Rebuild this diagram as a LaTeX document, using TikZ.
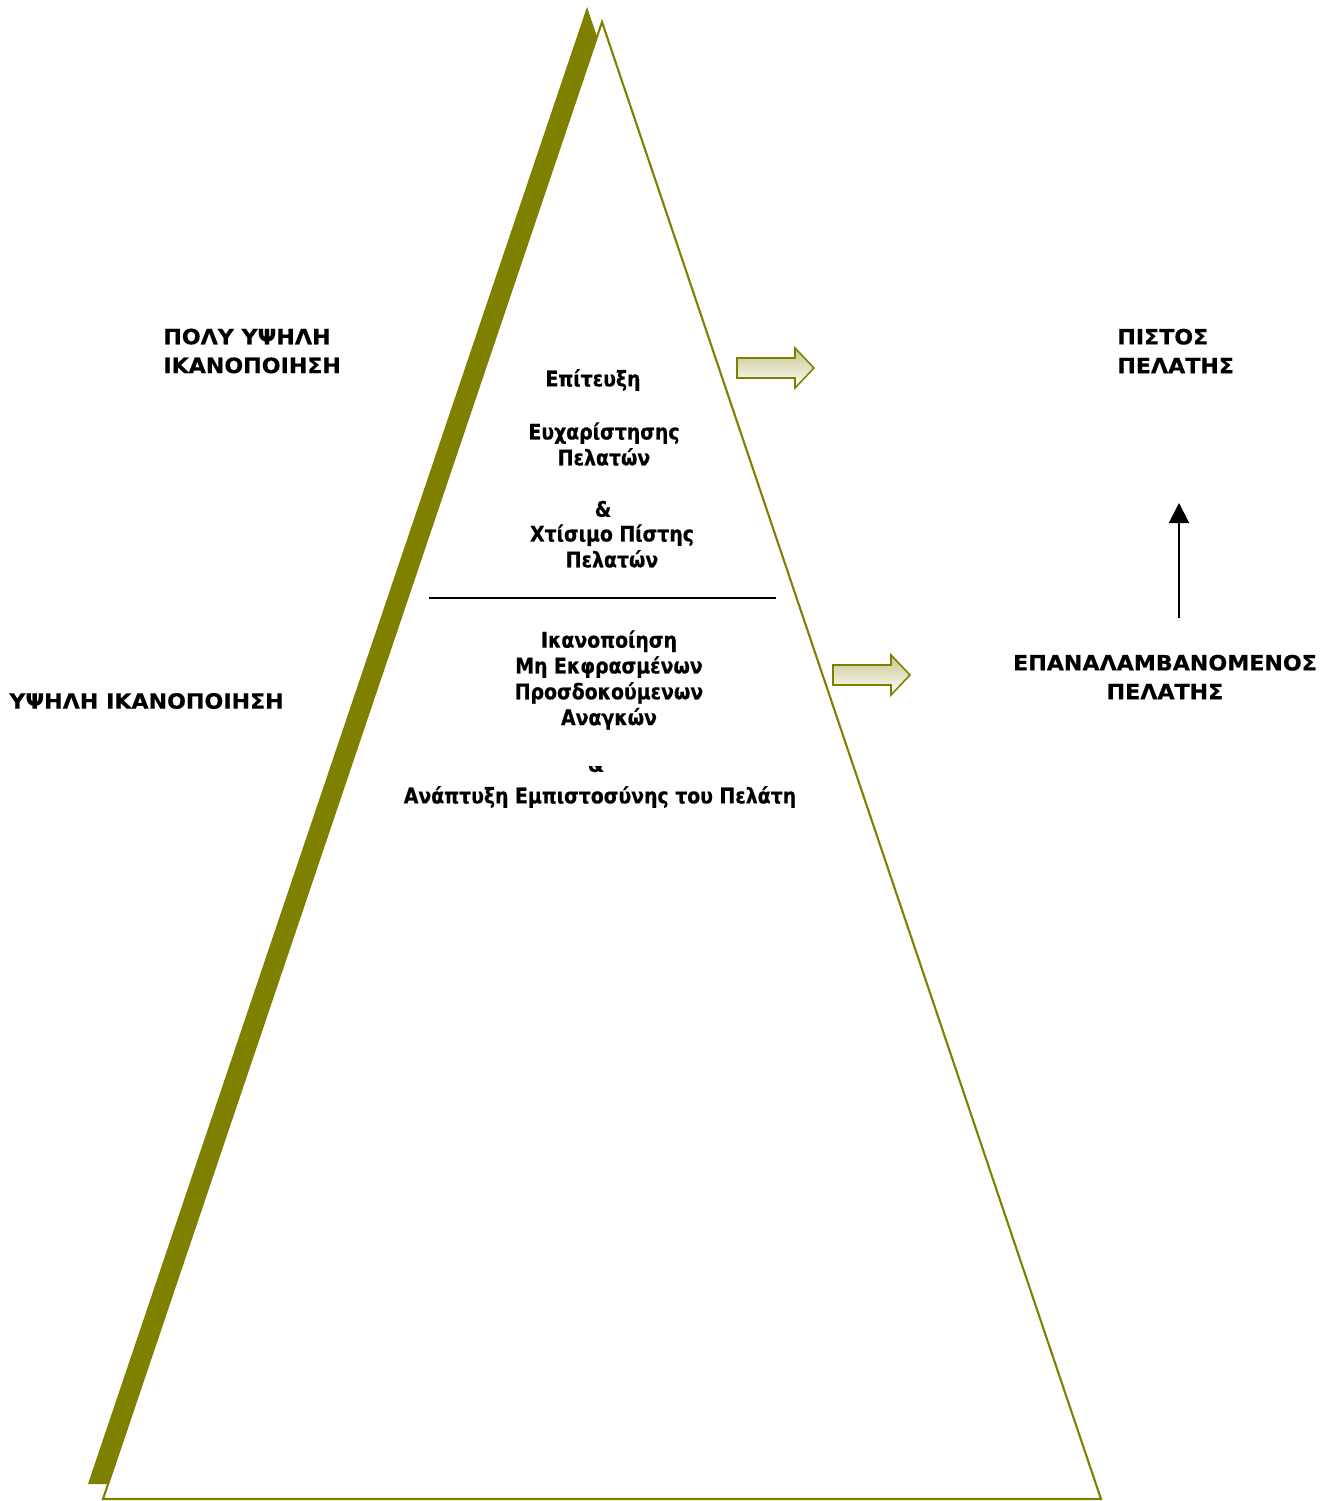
\documentclass[tikz,border=0pt]{standalone}
\usepackage{fontspec}
\setmainfont{DejaVu Sans}
\newfontfamily\capfont[FakeStretch=1.05,FakeBold=0.5]{DejaVu Sans}
\newfontfamily\txtfont[FakeStretch=0.88,FakeBold=0.6]{DejaVu Sans}
\usetikzlibrary{arrows.meta}
\definecolor{olivebar}{HTML}{808000}
\tikzset{
  head/.style={font=\capfont\bfseries\fontsize{12}{16.4}\selectfont,inner sep=0pt},
  lbl/.style={font=\txtfont\bfseries\fontsize{12.2}{14.7}\selectfont,align=center,inner sep=0pt},
  blockarrow/.style={draw=olivebar,line width=0.9pt,top color=olivebar!45!white,bottom color=white}
}
\begin{document}
\begin{tikzpicture}[x=0.02cm,y=-0.02cm]
        \useasboundingbox(0,0)rectangle(1329,1501);
        \fill[olivebar](587,7)--(88,1484)--(1086,1484)--cycle;
        \draw[olivebar,fill=white,line width=1.2pt](602,22)--(103,1499)--(1101,1499)--cycle;
        \draw[line width=1pt](429,598)--(776,598);
        \draw[blockarrow](737,358)--(795,358)--(795,348)--(814,368)--(795,388)--(795,378)--(737,378)--cycle;
        \draw[blockarrow](833,665)--(891,665)--(891,655)--(910,675)--(891,695)--(891,685)--(833,685)--cycle;
        \node[head,align=left,anchor=west](1)at(163,351){ΠΟΛΥ ΥΨΗΛΗ\\ΙΚΑΝΟΠΟΙΗΣΗ};
        \node[head,anchor=west](2)at(9,701){ΥΨΗΛΗ ΙΚΑΝΟΠΟΙΗΣΗ};
        \node[head,align=left,anchor=west](3)at(1117,351){ΠΙΣΤΟΣ\\ΠΕΛΑΤΗΣ};
        \node[head,align=center](4)at(1165,677){ΕΠΑΝΑΛΑΜΒΑΝΟΜΕΝΟΣ\\ΠΕΛΑΤΗΣ};
        \node[lbl](5)at(593,380){Επίτευξη};
        \node[lbl](6)at(604,444){Ευχαρίστησης\\Πελατών};
        \node[lbl](7)at(603,509){\&};
        \node[lbl](8)at(612,546){Χτίσιμο Πίστης\\Πελατών};
        \node[lbl](9)at(609,680){Ικανοποίηση\\Μη Εκφρασμένων\\Προσδοκούμενων\\Αναγκών};
        \node[lbl](10)at(600,797){Ανάπτυξη Εμπιστοσύνης του Πελάτη};
        \begin{scope}
        \clip(560,766)rectangle(630,773);
        \node[lbl](11)at(596,764){\&};
        \end{scope}
        \coordinate(a)at(1179,618);
        \coordinate(b)at(1179,503);
        \draw[line width=1.1pt,-{Triangle[length=0.4cm,width=0.4cm]}](a)--(b);
    \end{tikzpicture}
\end{document}
